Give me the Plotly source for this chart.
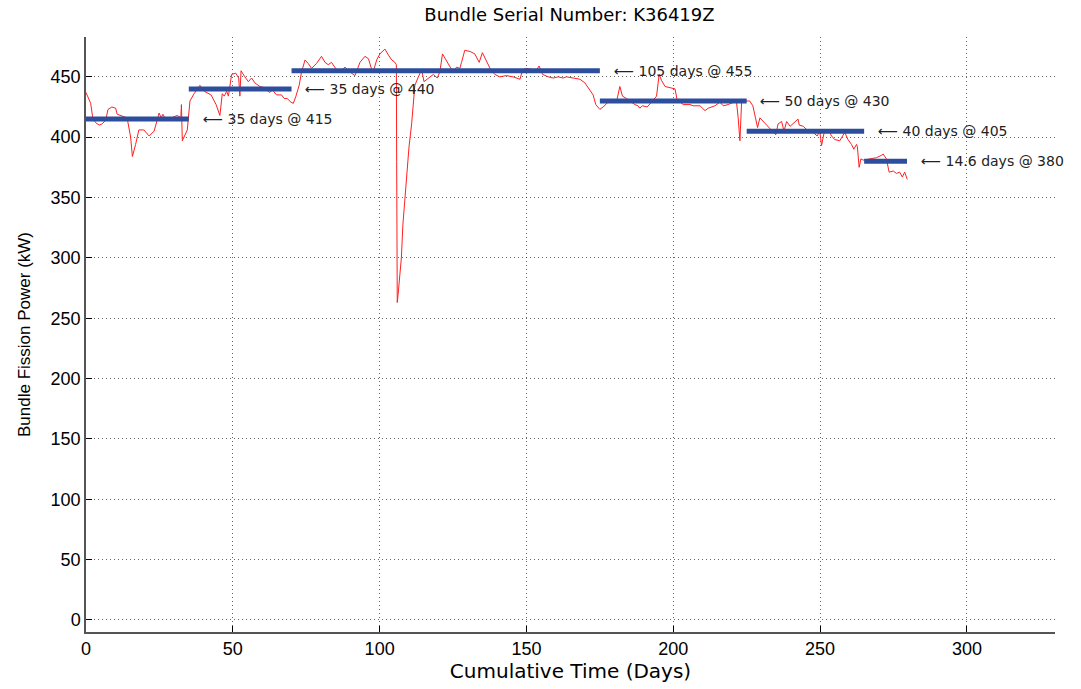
import plotly.graph_objects as go

# Measured bundle fission power (days, kW)
days = [0.0, 0.8, 1.6, 2.3, 3.3, 4.5, 5.5, 6.7, 7.5, 8.8, 10.1, 10.6, 11.8, 13.0, 14.0,
        15.2, 15.8, 16.9, 18.0, 19.7, 21.5, 23.2, 24.0, 24.9, 25.6, 26.2, 27.1, 28.8, 30.0,
        31.1, 32.3, 32.5, 32.8, 33.4, 34.5, 35.4, 36.8, 38.8, 40.3, 42.6, 44.3, 45.6, 46.4,
        47.1, 47.9, 48.5, 49.6, 51.0, 52.0, 52.4, 52.8, 54.1, 55.3, 56.4, 57.5, 59.2, 60.9,
        62.4, 63.5, 64.9, 66.6, 67.5, 68.5, 69.8, 70.6, 71.5, 72.6, 73.4, 74.6, 75.7, 76.8,
        78.5, 80.2, 81.4, 82.5, 83.6, 85.3, 86.5, 88.2, 89.9, 91.6, 93.3, 95.0, 96.2, 97.3,
        97.9, 99.0, 100.1, 101.8, 103.0, 104.1, 105.2, 105.7, 105.8, 106.0, 106.3, 107.4,
        107.9, 108.6, 109.2, 110.0, 110.9, 112.0, 113.2, 114.3, 115.1, 116.6, 118.3, 119.6,
        120.5, 121.4, 122.7, 125.0, 126.2, 127.3, 127.9, 129.0, 130.8, 132.4, 133.9, 135.0,
        136.2, 137.6, 139.2, 140.9, 143.2, 145.4, 147.8, 148.7, 150.1, 151.8, 153.5, 154.3,
        155.5, 157.4, 159.1, 160.8, 162.5, 163.6, 165.9, 168.2, 169.9, 171.6, 172.7, 173.6,
        175.0, 176.1, 177.8, 180.1, 180.9, 181.8, 182.7, 184.1, 185.8, 186.9, 188.0, 188.6,
        189.5, 191.1, 192.6, 194.3, 195.2, 196.0, 197.2, 198.9, 200.6, 201.3, 203.4, 205.7,
        206.8, 209.1, 210.8, 211.9, 214.2, 215.9, 217.0, 218.7, 220.4, 221.5, 222.1, 222.7,
        223.3, 224.5, 226.0, 227.1, 228.0, 228.7, 229.5, 230.6, 232.3, 233.5, 234.9, 235.7,
        236.9, 237.7, 238.6, 239.8, 241.5, 242.5, 242.9, 244.3, 245.9, 247.6, 249.0, 249.9,
        250.5, 251.3, 252.2, 253.3, 253.9, 255.0, 256.7, 258.4, 259.5, 260.7, 261.5, 262.4,
        262.7, 263.3, 263.9, 264.7, 267.0, 269.2, 270.9, 271.5, 272.6, 273.5, 274.9, 276.0,
        277.1, 278.0, 278.8, 279.7]
power = [437, 433, 428, 416, 412, 410, 411, 414, 423, 425, 424, 419, 418, 417, 416,
         400, 384, 394, 406, 406, 401, 405, 413, 420, 416, 419, 415, 415, 417,
         418, 416, 427, 397, 400, 406, 430, 436, 443, 438, 435, 427, 418, 436,
         434, 438, 434, 452, 453, 449, 434, 455, 450, 446, 449, 445, 442, 441,
         437, 439, 435, 435, 432, 432, 429, 428, 434, 443, 454, 464, 461, 457,
         461, 467, 462, 460, 462, 456, 454, 458, 454, 451, 462, 467, 465, 456,
         455, 464, 469, 473, 468, 464, 462, 460, 380, 263, 270, 300,
         327, 349, 368, 392, 411, 443, 450, 456, 446, 449, 452, 449,
         454, 469, 464, 454, 458, 457, 462, 472, 471, 469, 462, 470,
         464, 457, 452, 450, 451, 450, 448, 456, 457, 456, 456, 459,
         452, 450, 449, 450, 449, 450, 449, 448, 445, 439, 435, 427,
         423, 425, 429, 430, 432, 442, 434, 432, 429, 427, 426, 424,
         426, 425, 429, 434, 452, 447, 442, 441, 440, 431, 427, 427,
         426, 426, 422, 424, 426, 429, 426, 427, 429, 430, 416, 397,
         431, 430, 430, 426, 416, 408, 416, 413, 409, 405, 402, 411,
         413, 405, 413, 409, 413, 415, 410, 409, 405, 404, 401, 405,
         393, 403, 405, 404, 401, 398, 397, 404, 398, 394, 390, 394,
         392, 375, 382, 381, 382, 383, 385, 386, 382, 371, 372, 370,
         371, 367, 371, 365]

# Constant-power steps
step_start = [0, 35, 70, 175, 225, 265]
step_end = [35, 70, 175, 225, 265, 279.6]
step_level = [415, 440, 455, 430, 405, 380]
step_labels = ["35 days @ 415", "35 days @ 440", "105 days @ 455",
               "50 days @ 430", "40 days @ 405", "14.6 days @ 380"]

x_ticks = [0, 50, 100, 150, 200, 250, 300]
y_ticks = [0, 50, 100, 150, 200, 250, 300, 350, 400, 450]

FONT = "Liberation Sans, Arial, Helvetica, sans-serif"
WIDE = "DejaVu Sans, Liberation Sans, sans-serif"

fig = go.Figure()
fig.add_trace(go.Scatter(x=days, y=power, mode="lines",
                         line=dict(color="#ff2020", width=1), showlegend=False,
                         hoverinfo="skip"))
for s, e, lv in zip(step_start, step_end, step_level):
    fig.add_trace(go.Scatter(x=[s, e], y=[lv, lv], mode="lines",
                             line=dict(color="#2d4d9d", width=5), showlegend=False,
                             hoverinfo="skip"))

annotations = []
for e, lv, lab in zip(step_end, step_level, step_labels):
    annotations.append(dict(x=e + 4, y=lv, xref="x", yref="y", text="\u27f5 " + lab,
                            showarrow=False, xanchor="left", yanchor="middle",
                            font=dict(family=WIDE, size=14, color="#222")))

fig.update_layout(
    width=1081, height=689,
    margin=dict(l=86, r=26, t=37, b=52),
    paper_bgcolor="white", plot_bgcolor="white",
    title=dict(text="Bundle Serial Number: K36419Z", x=0.5268, xanchor="center",
               y=0.978, yanchor="middle",
               font=dict(family=WIDE, size=18, color="black")),
    annotations=annotations,
    font=dict(family=FONT, color="black"),
)
fig.update_xaxes(range=[0, 330], tickvals=x_ticks, ticks="inside", ticklen=6,
                 tickcolor="black", showline=True, linecolor="#555", linewidth=1.5,
                 showgrid=True, gridcolor="rgba(0,0,0,0.6)", griddash="1px,3px", gridwidth=1,
                 zeroline=False, tickfont=dict(size=18, family=FONT),
                 title=dict(text="Cumulative Time (Days)", standoff=4,
                            font=dict(size=20, family=WIDE)))
fig.update_yaxes(range=[-10, 483], tickvals=y_ticks, ticks="inside", ticklen=6,
                 tickcolor="black", showline=True, linecolor="#555", linewidth=1.5,
                 showgrid=True, gridcolor="rgba(0,0,0,0.6)", griddash="1px,3px", gridwidth=1,
                 zeroline=False, tickfont=dict(size=18, family=FONT),
                 title=dict(text="Bundle Fission Power (kW)", standoff=16,
                            font=dict(size=17, family=FONT)))

fig.write_html("out.html")
